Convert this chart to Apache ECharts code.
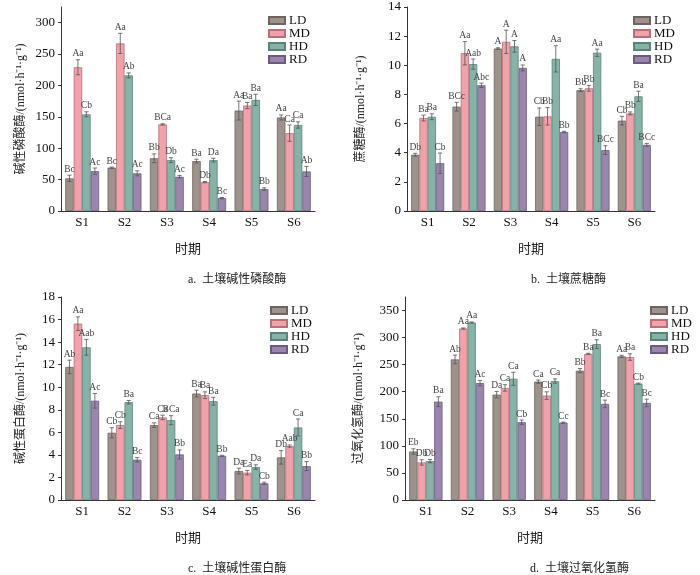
<!DOCTYPE html>
<html>
<head>
<meta charset="utf-8">
<script src="https://cdn.jsdelivr.net/npm/echarts@6/dist/echarts.min.js"></script>
<style>
  html, body { margin: 0; padding: 0; background: #fff; }
  #chart { width: 700px; height: 575px; }
</style>
</head>
<body>
<div id="chart"></div>
<script>
var categories = ['S1', 'S2', 'S3', 'S4', 'S5', 'S6'];
var seriesNames = ['LD', 'MD', 'HD', 'RD'];

// a. 碱性磷酸酶
var alpLD = [52, 69, 84, 79.5, 160, 149];
var alpMD = [229, 267, 138, 46, 168, 124];
var alpHD = [154, 216, 81, 81, 177, 137];
var alpRD = [63.5, 60, 54.5, 20.5, 35, 63];
var alpLDErr = [5, 1, 7, 3, 15, 4];
var alpMDErr = [12, 16, 1, 1, 5, 13];
var alpHDErr = [4, 4, 4, 3, 9, 5];
var alpRDErr = [5, 4, 2, 1, 2, 8];
var alpLDSig = ['Bc', 'Bc', 'Bb', 'Ba', 'Aa', 'Aa'];
var alpMDSig = ['Aa', 'Aa', 'BCa', 'Db', 'Ba', 'Ca'];
var alpHDSig = ['Cb', 'Ab', 'Db', 'Da', 'Ba', 'Ca'];
var alpRDSig = ['Ac', 'Ac', 'Ac', 'Bc', 'Bb', 'Ab'];
var alpTicks = [0, 50, 100, 150, 200, 250, 300];

// b. 蔗糖酶
var sucLD = [3.86, 7.16, 11.15, 6.47, 8.29, 6.2];
var sucMD = [6.38, 10.83, 11.61, 6.5, 8.42, 6.7];
var sucHD = [6.47, 10.08, 11.3, 10.44, 10.86, 7.87];
var sucRD = [3.28, 8.63, 9.82, 5.42, 4.18, 4.54];
var sucLDErr = [0.1, 0.3, 0.05, 0.6, 0.1, 0.3];
var sucMDErr = [0.2, 0.8, 0.8, 0.6, 0.2, 0.1];
var sucHDErr = [0.2, 0.35, 0.4, 0.9, 0.25, 0.35];
var sucRDErr = [0.7, 0.15, 0.2, 0.05, 0.3, 0.1];
var sucLDSig = ['Db', 'BCc', 'A', 'Cb', 'Bb', 'Cb'];
var sucMDSig = ['Ba', 'Aa', 'A', 'Bb', 'Bb', 'Bb'];
var sucHDSig = ['Ba', 'Aab', 'A', 'Aa', 'Aa', 'Ba'];
var sucRDSig = ['Cb', 'Abc', 'A', 'Bb', 'BCc', 'BCc'];
var sucTicks = [0, 2, 4, 6, 8, 10, 12, 14];

// c. 碱性蛋白酶
var proLD = [11.8, 5.96, 6.64, 9.44, 2.57, 3.78];
var proMD = [15.64, 6.64, 7.32, 9.29, 2.42, 4.78];
var proHD = [13.54, 8.67, 7.08, 8.76, 2.92, 6.43];
var proRD = [8.8, 3.57, 4.04, 3.92, 1.48, 3.01];
var proLDErr = [0.6, 0.45, 0.2, 0.3, 0.25, 0.6];
var proMDErr = [0.6, 0.3, 0.2, 0.3, 0.2, 0.1];
var proHDErr = [0.7, 0.15, 0.4, 0.35, 0.2, 0.75];
var proRDErr = [0.65, 0.2, 0.4, 0.05, 0.1, 0.4];
var proLDSig = ['Ab', 'Cb', 'Ca', 'Ba', 'Da', 'Db'];
var proMDSig = ['Aa', 'Cb', 'Ca', 'Ba', 'Ea', 'Aab'];
var proHDSig = ['Aab', 'Ba', 'BCa', 'Ba', 'Da', 'Ca'];
var proRDSig = ['Ac', 'Bc', 'Bb', 'Bb', 'Cb', 'Bb'];
var proTicks = [0, 2, 4, 6, 8, 10, 12, 14, 16, 18];

// d. 过氧化氢酶
var catLD = [89.6, 259.7, 194.6, 218.6, 238.9, 265.3];
var catMD = [69.4, 316.8, 207, 192.8, 270, 264];
var catHD = [71.8, 327.9, 224, 219.8, 288, 215];
var catRD = [181.7, 216, 143.7, 143, 177.5, 179.3];
var catLDErr = [5, 8, 6, 3, 4, 2];
var catMDErr = [5, 1, 6, 7, 1, 6];
var catHDErr = [3, 1, 12, 4, 8, 1];
var catRDErr = [9, 5, 4, 1, 7, 7];
var catLDSig = ['Eb', 'Ab', 'Da', 'Ca', 'Bb', 'Aa'];
var catMDSig = ['Db', 'Aa', 'Ca', 'Cb', 'Ba', 'Ba'];
var catHDSig = ['Db', 'Aa', 'Ca', 'Ca', 'Ba', 'Cb'];
var catRDSig = ['Ba', 'Ac', 'Cb', 'Cc', 'Bc', 'Bc'];
var catTicks = [0, 50, 100, 150, 200, 250, 300, 350];

var colors = ['#9d928c', '#efa2a9', '#86b2a8', '#9a86ac'];
var borders = ['#6e635e', '#b86f77', '#5a8479', '#6c5a80'];
var serif = '"Liberation Serif", "Times New Roman", serif';
var cjk = '"Liberation Serif", "Noto Sans CJK SC", serif';

var panels = [
    { vals: [alpLD, alpMD, alpHD, alpRD], errs: [alpLDErr, alpMDErr, alpHDErr, alpRDErr],
      sigs: [alpLDSig, alpMDSig, alpHDSig, alpRDSig], ticks: alpTicks, max: 325,
      name: '碱性磷酸酶/(nmol·h⁻¹·g⁻¹)', caption: 'a.  土壤碱性磷酸酶',
      grid: { left: 61, top: 7, width: 254, height: 204 }, nameGap: 34,
      legend: { left: 263, top: 9 } },
    { vals: [sucLD, sucMD, sucHD, sucRD], errs: [sucLDErr, sucMDErr, sucHDErr, sucRDErr],
      sigs: [sucLDSig, sucMDSig, sucHDSig, sucRDSig], ticks: sucTicks, max: 14,
      name: '蔗糖酶/(nmol·h⁻¹·g⁻¹)', caption: 'b.  土壤蔗糖酶',
      grid: { left: 407, top: 7, width: 248, height: 204 }, nameGap: 40,
      legend: { left: 628, top: 9 } },
    { vals: [proLD, proMD, proHD, proRD], errs: [proLDErr, proMDErr, proHDErr, proRDErr],
      sigs: [proLDSig, proMDSig, proHDSig, proRDSig], ticks: proTicks, max: 18,
      name: '碱性蛋白酶/(nmol·h⁻¹·g⁻¹)', caption: 'c.  土壤碱性蛋白酶',
      grid: { left: 61, top: 297, width: 254, height: 203 }, nameGap: 34,
      legend: { left: 265, top: 299 } },
    { vals: [catLD, catMD, catHD, catRD], errs: [catLDErr, catMDErr, catHDErr, catRDErr],
      sigs: [catLDSig, catMDSig, catHDSig, catRDSig], ticks: catTicks, max: 375,
      name: '过氧化氢酶/(nmol·h⁻¹·g⁻¹)', caption: 'd.  土壤过氧化氢酶',
      grid: { left: 405, top: 297, width: 250, height: 203 }, nameGap: 40,
      legend: { left: 645, top: 299 } }
];

var grids = [], xAxes = [], yAxes = [], series = [], legends = [], graphics = [];

panels.forEach(function (p, k) {
    grids.push({ left: p.grid.left, top: p.grid.top, width: p.grid.width, height: p.grid.height });
    xAxes.push({
        type: 'category', gridIndex: k, data: categories,
        name: '时期', nameLocation: 'middle', nameGap: 32,
        nameTextStyle: { fontFamily: cjk, fontSize: 13, color: '#222' },
        axisLine: { lineStyle: { color: '#333', width: 1 } },
        axisTick: { show: false },
        axisLabel: { fontFamily: serif, fontSize: 13, color: '#111', margin: 5 }
    });
    yAxes.push({
        type: 'value', gridIndex: k, min: 0, max: p.max,
        name: p.name, nameLocation: 'middle', nameGap: p.nameGap,
        nameTextStyle: { fontFamily: cjk, fontSize: 12, color: '#222' },
        axisLine: { show: true, lineStyle: { color: '#333', width: 1 } },
        axisTick: { show: true, length: 3, customValues: p.ticks, lineStyle: { color: '#333' } },
        axisLabel: { fontFamily: serif, fontSize: 13, color: '#111', margin: 6, customValues: p.ticks },
        splitLine: { show: false }
    });
    legends.push({
        orient: 'vertical', left: p.legend.left, top: p.legend.top,
        data: seriesNames, icon: 'rect', itemWidth: 16, itemHeight: 7, itemGap: 0,
        selectedMode: false,
        textStyle: { fontFamily: serif, fontSize: 13, color: '#111', padding: [0, 0, 0, -1], lineHeight: 12.7 }
    });
    graphics.push({
        type: 'text', left: p.grid.left + p.grid.width / 2, top: p.grid.top + p.grid.height + 63,
        style: { text: p.caption, font: '12px ' + cjk, fill: '#222', textAlign: 'center' }
    });

    seriesNames.forEach(function (nm, i) {
        series.push({
            name: nm, type: 'bar', xAxisIndex: k, yAxisIndex: k,
            data: p.vals[i], barGap: 0, barCategoryGap: '20%',
            itemStyle: { color: colors[i], borderColor: borders[i], borderWidth: 0.8 },
            silent: true
        });
    });

    // 误差线和显著性字母
    var errData = [];
    for (var i = 0; i < 4; i++) {
        for (var c = 0; c < categories.length; c++) {
            errData.push([c, p.vals[i][c], p.errs[i][c], i]);
        }
    }
    series.push({
        type: 'custom', xAxisIndex: k, yAxisIndex: k, data: errData, silent: true, z: 5,
        renderItem: function (params, api) {
            var c = api.value(0), v = api.value(1), e = api.value(2), i = api.value(3);
            var bw = api.size([1, 0])[0];
            var off = (-0.4 + 0.2 * (i + 0.5)) * bw;
            var hi = api.coord([c, v + e]);
            var lo = api.coord([c, v - e]);
            var x = hi[0] + off;
            var cap = bw * 0.05;
            return {
                type: 'group',
                children: [
                    { type: 'line', shape: { x1: x, y1: hi[1], x2: x, y2: lo[1] }, style: { stroke: '#555', lineWidth: 0.8 } },
                    { type: 'line', shape: { x1: x - cap, y1: hi[1], x2: x + cap, y2: hi[1] }, style: { stroke: '#555', lineWidth: 0.8 } },
                    { type: 'line', shape: { x1: x - cap, y1: lo[1], x2: x + cap, y2: lo[1] }, style: { stroke: '#555', lineWidth: 0.8 } },
                    { type: 'text', x: x, y: hi[1] - 1,
                      style: { text: p.sigs[i][c], font: '9.5px ' + serif, fill: '#444', textAlign: 'center', textVerticalAlign: 'bottom' } }
                ]
            };
        }
    });
});

var myChart = echarts.init(document.getElementById('chart'));
myChart.setOption({
    animation: false,
    grid: grids,
    xAxis: xAxes,
    yAxis: yAxes,
    legend: legends,
    series: series,
    graphic: graphics
});
</script>
</body>
</html>
